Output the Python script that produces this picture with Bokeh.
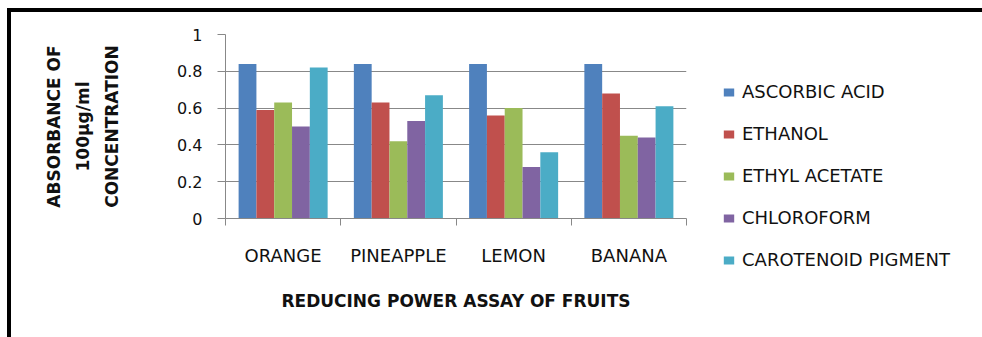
from bokeh.plotting import figure
from bokeh.models import Range1d, FixedTicker, Legend, LegendItem, ColumnDataSource
from bokeh.embed import file_html
from bokeh.resources import INLINE

# Reducing power assay: absorbance at 100 ug/ml for each fruit extract
fruits = ["ORANGE", "PINEAPPLE", "LEMON", "BANANA"]
series = ["ASCORBIC ACID", "ETHANOL", "ETHYL ACETATE", "CHLOROFORM", "CAROTENOID PIGMENT"]
ascorbic_acid = [0.84, 0.84, 0.84, 0.84]
ethanol = [0.59, 0.63, 0.56, 0.68]
ethyl_acetate = [0.63, 0.42, 0.60, 0.45]
chloroform = [0.50, 0.53, 0.28, 0.44]
carotenoid_pigment = [0.82, 0.67, 0.36, 0.61]
y_ticks = [0, 0.2, 0.4, 0.6, 0.8, 1]

values = [ascorbic_acid, ethanol, ethyl_acetate, chloroform, carotenoid_pigment]
colors = ["#4F81BD", "#C0504D", "#9BBB59", "#8064A2", "#4BACC6"]

FONT = "DejaVu Sans"

p = figure(
    output_backend="svg", toolbar_location=None,
    frame_width=461, frame_height=184,
    min_border_left=214, min_border_right=296,
    min_border_top=22, min_border_bottom=119,
    x_range=Range1d(0, len(fruits)), y_range=Range1d(0, 1),
    background_fill_color="white", border_fill_color="white",
)
p.margin = (8, 0, 0, 7)
p.styles = {"border-top": "4px solid #000", "border-left": "4px solid #000"}
p.outline_line_color = None

bar_w = 0.1545
centers = [i + 0.5 for i in range(len(fruits))]
items = []
for k, (name, vals, col) in enumerate(zip(series, values, colors)):
    off = (k - 2) * bar_w
    src = ColumnDataSource(dict(x=[c + off for c in centers], top=vals))
    r = p.vbar(x="x", top="top", bottom=0, width=bar_w, source=src,
               fill_color=col, line_color=None)
    items.append(LegendItem(label=name, renderers=[r]))

# x axis: boundary ticks between fruit groups, labels at group centres
p.xaxis.ticker = FixedTicker(ticks=centers, minor_ticks=list(range(len(fruits) + 1)))
p.xaxis.major_label_overrides = {c: f for c, f in zip(centers, fruits)}
p.xaxis.major_tick_line_color = None
p.xaxis.minor_tick_out = 7
p.xaxis.minor_tick_in = 0
p.xaxis.minor_tick_line_color = "#888888"
p.xaxis.axis_line_color = "#888888"
p.xaxis.major_label_text_font = FONT
p.xaxis.major_label_text_font_size = "18px"
p.xaxis.major_label_text_color = "#111111"
p.xaxis.major_label_standoff = 19
p.xaxis.axis_label = "REDUCING POWER ASSAY OF FRUITS"
p.xaxis.axis_label_text_font = FONT
p.xaxis.axis_label_text_font_style = "bold"
p.xaxis.axis_label_text_font_size = "17px"
p.xaxis.axis_label_text_color = "#111111"
p.xaxis.axis_label_standoff = 22

p.yaxis.ticker = FixedTicker(ticks=y_ticks)
p.yaxis.major_label_overrides = {0: "0", 1: "1"}
p.yaxis.major_tick_out = 8
p.yaxis.major_tick_in = 0
p.yaxis.minor_tick_line_color = None
p.yaxis.major_tick_line_color = "#888888"
p.yaxis.axis_line_color = "#888888"
p.yaxis.major_label_text_font = FONT
p.yaxis.major_label_text_font_size = "16px"
p.yaxis.major_label_text_color = "#111111"
p.yaxis.major_label_standoff = 15
p.yaxis.axis_label = "ABSORBANCE OF\n100\u03bcg/ml\nCONCENTRATION"
p.yaxis.axis_label_text_font = FONT
p.yaxis.axis_label_text_font_style = "bold"
p.yaxis.axis_label_text_font_size = "17px"
p.yaxis.axis_label_text_color = "#111111"
p.yaxis.axis_label_text_line_height = 1.45
p.yaxis.axis_label_standoff = 52

p.xgrid.grid_line_color = None
p.ygrid.ticker = FixedTicker(ticks=y_ticks)
p.ygrid.grid_line_color = "#888888"

legend = Legend(items=items, location=(36, -52), orientation="vertical",
                border_line_color=None, background_fill_alpha=0,
                padding=0, margin=0, spacing=21,
                glyph_width=13, glyph_height=10, label_standoff=7,
                label_text_font=FONT, label_text_font_size="18px",
                label_text_color="#111111", label_height=20)
p.add_layout(legend, "right")

open("out.html", "w").write(file_html(p, INLINE))
